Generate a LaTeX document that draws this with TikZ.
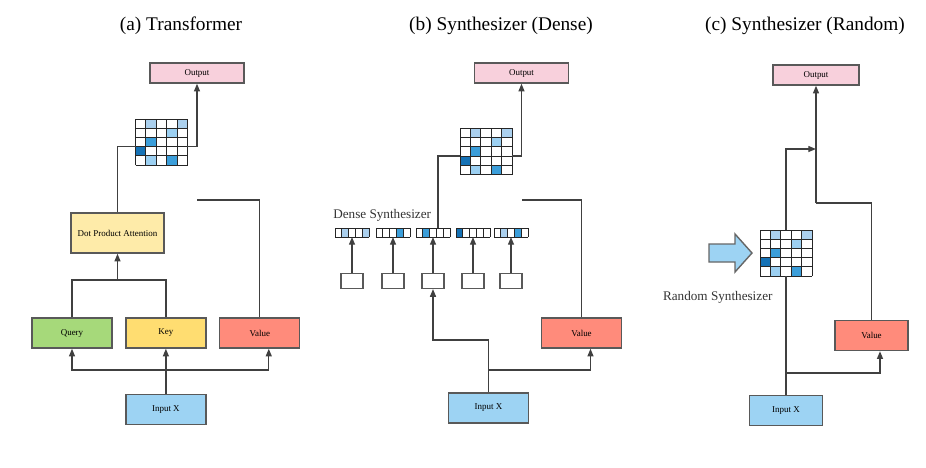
\documentclass[tikz,border=0pt]{standalone}
\usepackage{fontspec}
\setmainfont{Liberation Serif}
\usepackage{xcolor}
\usepackage{tikz}
\usetikzlibrary{shapes,arrows.meta,positioning}

\definecolor{outpink}{HTML}{F8D0DC}
\definecolor{dotyellow}{HTML}{FEEBA9}
\definecolor{qrygreen}{HTML}{A6D97A}
\definecolor{keyyellow}{HTML}{FFDD71}
\definecolor{valred}{HTML}{FF8B7B}
\definecolor{inblue}{HTML}{9DD3F3}
\definecolor{wlight}{HTML}{ABD0EE}
\definecolor{wsoft}{HTML}{9CD0F2}
\definecolor{wmid}{HTML}{3B9EDA}
\definecolor{wdark}{HTML}{1572B6}

\begin{document}
\begin{tikzpicture}[
    x=0.02cm, y=-0.02cm,
    node distance=0.25cm,
    box/.style={rectangle, draw=black!65, line width=0.8pt, minimum width=1.6cm, minimum height=0.6cm, inner sep=1pt, font=\fontsize{5.1}{6}\selectfont},
    outbox/.style={box, fill=outpink, minimum width=1.88cm, minimum height=0.4cm},
    sbox/.style={rectangle, draw=black!65, line width=0.6pt, fill=white, minimum width=0.44cm, minimum height=0.3cm},
    matbox/.style={rectangle, inner sep=0pt, outer sep=0pt, minimum width=1.04cm, minimum height=0.92cm},
    vecbox/.style={rectangle, inner sep=0pt, outer sep=0pt, fill=white, minimum width=0.68cm, minimum height=0.18cm},
    cellgrid/.style={draw=black!85, line width=0.5pt},
    heading/.style={font=\fontsize{11}{13}\selectfont, anchor=base},
    synlabel/.style={font=\fontsize{7.5}{9}\selectfont, text=black!80, inner sep=0pt, anchor=base west},
    conn/.style={draw=black!75, line width=0.8pt},
    arrow/.style={conn, -{Triangle[length=4.4pt, width=3.4pt]}},
    attn/.pic={
        \begin{scope}[x=0.208cm, y=0.184cm]
            \fill[white] (0,0) rectangle (5,5);
            \fill[wlight] (1,4) rectangle (2,5);
            \fill[wlight] (4,4) rectangle (5,5);
            \fill[wsoft] (3,3) rectangle (4,4);
            \fill[wmid] (1,2) rectangle (2,3);
            \fill[wdark] (0,1) rectangle (1,2);
            \fill[wsoft] (1,0) rectangle (2,1);
            \fill[wmid] (3,0) rectangle (4,1);
            \draw[cellgrid] (0,0) grid[xstep=0.208cm, ystep=0.184cm] (5.02,5.02);
        \end{scope}
    }
]
    \useasboundingbox (0,0) rectangle (926,467);

    % (a) Transformer
    \node[heading] (headA) at (181,30) {(a) Transformer};
    \node[outbox] (outA) at (197,73) {Output};
    \node[matbox] (matA) at (161.5,142) {};
    \node[box, fill=dotyellow, minimum width=1.86cm, minimum height=0.8cm] (dpa) at (117.5,233) {Dot Product Attention};
    \node[box, fill=qrygreen] (qryA) at (72,333) {Query};
    \node[box, fill=keyyellow, right=of qryA] (keyA) {Key};
    \node[box, fill=valred, right=of keyA] (valA) {Value};
    \node[box, fill=inblue, below=0.9cm of keyA] (inA) {Input X};
    \coordinate (mergeA) at (117.5,280);
    \coordinate (splitA) at (164.5,370);
    \coordinate (bendA) at (197,200);
    \pic at (matA.south west) {attn};

    \draw[arrow] (inA) -- (keyA);
    \draw[arrow] (splitA) -| (qryA.south);
    \draw[arrow] (splitA) -| ([xshift=0.18cm]valA.south);
    \draw[conn] (qryA.north) |- (mergeA) -| (keyA.north);
    \draw[arrow] (mergeA) -- (dpa.south);
    \draw[conn] (dpa.north) |- ([yshift=-0.092cm]matA.west);
    \draw[arrow] ([yshift=-0.092cm]matA.east) -| (outA.south);
    \draw[conn] (valA.north) |- (bendA);

    % (b) Synthesizer (Dense)
    \node[heading] (headB) at (501,30) {(b) Synthesizer (Dense)};
    \node[outbox] (outB) at (521.5,73) {Output};
    \node[matbox] (matB) at (486,151.5) {};
    \pic at (matB.south west) {attn};

    \node[synlabel] (denseLab) at (333,218.3) {Dense Synthesizer};
    \node[vecbox] (v1) at (352,232.5) {};
    \node[vecbox] (v2) at (393,232.5) {};
    \node[vecbox] (v3) at (433,232.5) {};
    \node[vecbox] (v4) at (473,232.5) {};
    \node[vecbox] (v5) at (511,232.5) {};
    \fill[wlight] ([xshift=0.136cm]v1.south west) rectangle ++(0.136cm,0.18cm);
    \fill[wlight] ([xshift=0.544cm]v1.south west) rectangle ++(0.136cm,0.18cm);
    \fill[wmid] ([xshift=0.408cm]v2.south west) rectangle ++(0.136cm,0.18cm);
    \fill[wmid] ([xshift=0.136cm]v3.south west) rectangle ++(0.136cm,0.18cm);
    \fill[wdark] (v4.south west) rectangle ++(0.136cm,0.18cm);
    \fill[wlight] ([xshift=0.136cm]v5.south west) rectangle ++(0.136cm,0.18cm);
    \fill[wmid] ([xshift=0.408cm]v5.south west) rectangle ++(0.136cm,0.18cm);
    \draw[cellgrid, shift={(v1.south west)}] (0,0) grid[xstep=0.136cm, ystep=0.18cm] (0.685cm,0.185cm);
    \draw[cellgrid, shift={(v2.south west)}] (0,0) grid[xstep=0.136cm, ystep=0.18cm] (0.685cm,0.185cm);
    \draw[cellgrid, shift={(v3.south west)}] (0,0) grid[xstep=0.136cm, ystep=0.18cm] (0.685cm,0.185cm);
    \draw[cellgrid, shift={(v4.south west)}] (0,0) grid[xstep=0.136cm, ystep=0.18cm] (0.685cm,0.185cm);
    \draw[cellgrid, shift={(v5.south west)}] (0,0) grid[xstep=0.136cm, ystep=0.18cm] (0.685cm,0.185cm);
    \node[sbox, below=0.72cm of v1] (sb1) {};
    \node[sbox, below=0.72cm of v2] (sb2) {};
    \node[sbox, below=0.72cm of v3] (sb3) {};
    \node[sbox, below=0.72cm of v4] (sb4) {};
    \node[sbox, below=0.72cm of v5] (sb5) {};

    \node[box, fill=valred] (valB) at (581.5,333) {Value};
    \node[box, fill=inblue] (inB) at (488.5,408) {Input X};
    \coordinate (turnB) at (488.5,340);
    \coordinate (splitB) at (488.5,370);
    \coordinate (bendB) at (521.5,200);

    \draw[arrow] (sb1) -- (v1);
    \draw[arrow] (sb2) -- (v2);
    \draw[arrow] (sb3) -- (v3);
    \draw[arrow] (sb4) -- (v4);
    \draw[arrow] (sb5) -- (v5);
    \draw[arrow] (inB.north) -- (turnB) -| (sb3.south);
    \draw[arrow] (splitB) -| ([xshift=0.18cm]valB.south);
    \draw[conn] ([xshift=0.1cm]v3.north) |- ([yshift=-0.092cm]matB.west);
    \draw[arrow] ([yshift=-0.092cm]matB.east) -| (outB.south);
    \draw[conn] (valB.north) |- (bendB);

    % (c) Synthesizer (Random)
    \node[heading] (headC) at (805,30) {(c) Synthesizer (Random)};
    \node[outbox, minimum width=1.72cm] (outC) at (816,75) {Output};
    \node[matbox] (matC) at (786,253) {};
    \pic at (matC.south west) {attn};
    \draw[fill=inblue, draw=black!60, line width=0.8pt] (709,244) -- (735,244) -- (735,234) -- (752,253) -- (735,272) -- (735,262) -- (709,262) -- cycle;
    \node[synlabel] (randLab) at (662.7,300.7) {Random Synthesizer};

    \node[box, fill=valred, minimum width=1.46cm] (valC) at (871.5,335.5) {Value};
    \node[box, fill=inblue, minimum width=1.46cm] (inC) at (786,410.5) {Input X};
    \coordinate (joinC) at (816,149);
    \coordinate (bendC) at (816,203);
    \coordinate (splitC) at (786,373);

    \draw[conn] (inC) -- (matC);
    \draw[arrow] (matC.north) |- (joinC);
    \draw[arrow] (bendC) -- (outC);
    \draw[conn] (valC.north) |- (bendC);
    \draw[arrow] (splitC) -| ([xshift=0.17cm]valC.south);
\end{tikzpicture}
\end{document}
